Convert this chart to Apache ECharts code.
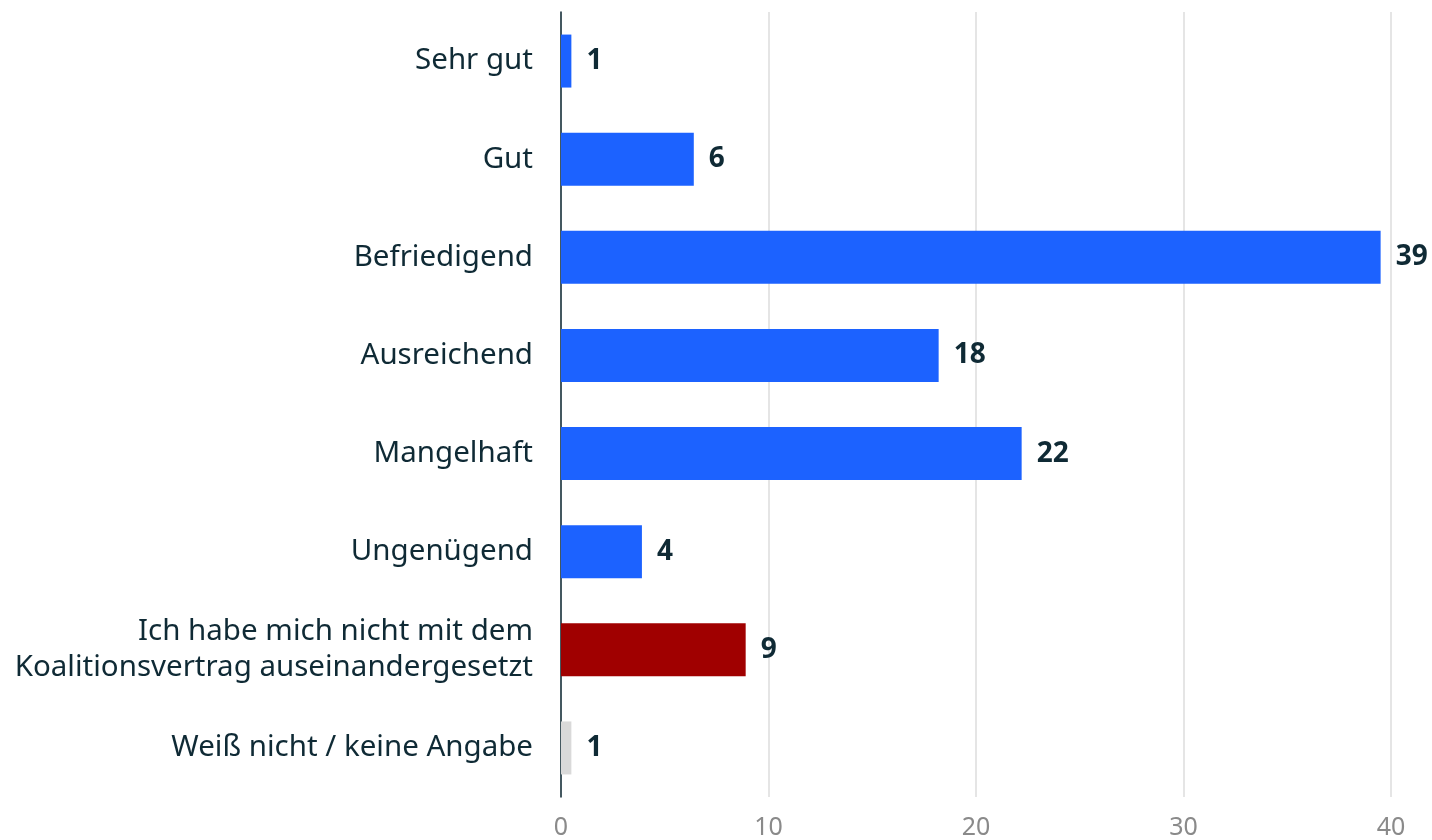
<!DOCTYPE html>
<html>
  <head>
    <title></title>
    <meta charset="UTF-8" />
    <script src="https://cdn.jsdelivr.net/npm/echarts@6/dist/echarts.min.js"></script>
    <style>
      html, body { margin: 0; padding: 0; background: #fff; }
    </style>
  </head>
  <body>
    <div id="main"></div>
    <script>
      const width = 1432;
      const height = 840;
      const main = document.getElementById('main');
      main.style.width = `${width}px`;
      main.style.height = `${height}px`;

      const categories = [
        'Sehr gut',
        'Gut',
        'Befriedigend',
        'Ausreichend',
        'Mangelhaft',
        'Ungenügend',
        'Ich habe mich nicht mit dem\nKoalitionsvertrag auseinandergesetzt',
        'Weiß nicht / keine Angabe'
      ];
      // bar lengths; labels are the rounded figures shown
      const values = [0.5, 6.4, 39.5, 18.2, 22.2, 3.9, 8.9, 0.5];
      const valueLabels = ['1', '6', '39', '18', '22', '4', '9', '1'];
      const barColors = ['#1c62ff', '#1c62ff', '#1c62ff', '#1c62ff', '#1c62ff', '#1c62ff', '#a00000', '#d9d9d9'];
      const xTicks = [0, 10, 20, 30, 40];

      const textColor = '#0f2a35';
      const font = '"Noto Sans", "Open Sans", sans-serif';

      const myChart = echarts.init(main);
      const option = {
        animation: false,
        grid: {
          left: 561,
          right: 41,
          top: 12,
          bottom: 42,
          containLabel: false
        },
        xAxis: {
          type: 'value',
          min: xTicks[0],
          max: xTicks[xTicks.length - 1],
          interval: 10,
          axisLine: { show: false },
          axisTick: { show: false },
          splitLine: {
            show: true,
            lineStyle: { color: '#dcdcdc', width: 1.5 }
          },
          axisLabel: {
            color: '#8a8a8a',
            fontFamily: font,
            fontSize: 25,
            margin: 18
          }
        },
        yAxis: {
          type: 'category',
          inverse: true,
          data: categories,
          axisLine: {
            show: true,
            lineStyle: { color: textColor, width: 1.5 }
          },
          axisTick: { show: false },
          axisLabel: {
            color: textColor,
            fontFamily: font,
            fontSize: 29.5,
            lineHeight: 36,
            align: 'right',
            margin: 28,
            padding: [3, 0, 0, 0]
          }
        },
        series: [
          {
            type: 'bar',
            barWidth: 53,
            data: values.map((v, i) => ({
              value: v,
              itemStyle: { color: barColors[i] }
            })),
            label: {
              show: true,
              position: 'right',
              distance: 15,
              color: textColor,
              fontFamily: font,
              fontWeight: 'bold',
              fontSize: 28,
              formatter: p => valueLabels[p.dataIndex]
            }
          }
        ]
      };
      myChart.setOption(option);
    </script>
  </body>
</html>
